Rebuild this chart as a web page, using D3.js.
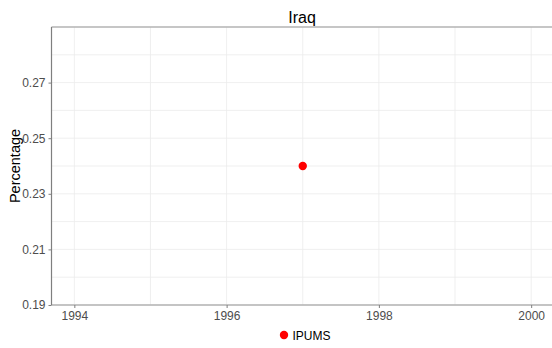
<!DOCTYPE html>
<html><head><meta charset="utf-8">
<script src="https://cdn.jsdelivr.net/npm/d3@7"></script>
<style>body{margin:0;background:#fff}svg{display:block}</style>
</head><body>
<script>
const title = "Iraq";
const seriesName = "IPUMS";
const years = [1997];
const values = [0.24];
const xTicks = [1994, 1996, 1998, 2000];
const xMinor = [1995, 1997, 1999];
const yTicks = [0.19, 0.21, 0.23, 0.25, 0.27];
const yMinor = [0.20, 0.22, 0.24, 0.26, 0.28];

const W = 552, H = 348;
const m = {left: 51.5, top: 27, bottom: 305, right: 554};
const svg = d3.select("body").append("svg").attr("width", W).attr("height", H)
  .style("font-family", "Arial, 'Liberation Sans', sans-serif");

const x = d3.scaleLinear().domain([1993.7, 2000.3]).range([m.left, m.right]);
const y = d3.scaleLinear().domain([0.19, 0.29]).range([m.bottom, m.top]);

const g = svg.append("g");
// grid
g.selectAll(".gx").data(xTicks.concat(xMinor)).enter().append("line")
  .attr("x1", d => x(d)).attr("x2", d => x(d)).attr("y1", m.top).attr("y2", m.bottom)
  .attr("stroke", "#ebebeb").attr("stroke-width", 0.8);
g.selectAll(".gy").data(yTicks.concat(yMinor)).enter().append("line")
  .attr("y1", d => y(d)).attr("y2", d => y(d)).attr("x1", m.left).attr("x2", W)
  .attr("stroke", "#ebebeb").attr("stroke-width", 0.8);

// top border
svg.append("line").attr("x1", m.left).attr("x2", W).attr("y1", m.top).attr("y2", m.top)
  .attr("stroke", "#b3b3b3").attr("stroke-width", 1.6);

// axes
const xAxis = d3.axisBottom(x).tickValues(xTicks).tickFormat(d3.format("d")).tickSize(3).tickPadding(3);
const yAxis = d3.axisLeft(y).tickValues(yTicks).tickFormat(d3.format(".2f")).tickSize(3).tickPadding(3);
const xa = svg.append("g").attr("transform", `translate(0,${m.bottom})`).call(xAxis);
const ya = svg.append("g").attr("transform", `translate(${m.left},0)`).call(yAxis);
xa.select(".domain").attr("stroke", "#b3b3b3").attr("stroke-width", 1.6).attr("d", `M${m.left},0H${W}`);
ya.select(".domain").attr("stroke", "#7f7f7f").attr("stroke-width", 1.2).attr("d", `M0,${m.top}V${m.bottom}`);
[xa, ya].forEach(a => {
  a.selectAll(".tick line").attr("stroke", "#7f7f7f");
  a.selectAll(".tick text").attr("fill", "#4d4d4d").style("font-size", "12px").style("font-family", "Arial, 'Liberation Sans', sans-serif");
});

// points
svg.selectAll(".pt").data(years.map((d, i) => ({x: d, y: values[i]}))).enter().append("circle")
  .attr("cx", d => x(d.x)).attr("cy", d => y(d.y)).attr("r", 4.2).attr("fill", "#ff0000");

// title
svg.append("text").attr("x", 302).attr("y", 23).attr("text-anchor", "middle")
  .style("font-size", "16px").attr("fill", "#000").text(title);
// y label
svg.append("text").attr("transform", `translate(20,166) rotate(-90)`).attr("text-anchor", "middle")
  .style("font-size", "14.5px").attr("fill", "#000").text("Percentage");

// legend
svg.append("circle").attr("cx", 284).attr("cy", 335).attr("r", 4.2).attr("fill", "#ff0000");
svg.append("text").attr("x", 292.5).attr("y", 339.5).style("font-size", "12px").attr("fill", "#000").text(seriesName);
</script>
</body></html>
